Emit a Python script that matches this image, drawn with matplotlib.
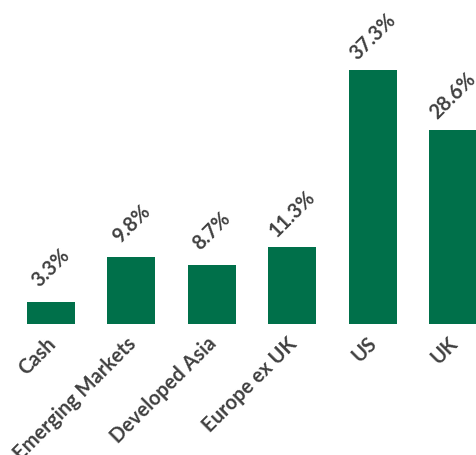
import matplotlib.pyplot as plt

categories = ['Cash', 'Emerging Markets', 'Developed Asia', 'Europe ex UK', 'US', 'UK']
weights = [3.3, 9.8, 8.7, 11.3, 37.3, 28.6]
value_labels = ['3.3%', '9.8%', '8.7%', '11.3%', '37.3%', '28.6%']

plt.rcParams['font.family'] = ['Lato', 'DejaVu Sans']
green = '#00704A'
grey = '#404040'

fig = plt.figure(figsize=(4.76, 4.55), dpi=100)
ax = fig.add_axes([0, 131 / 455, 1, 324 / 455])

x = list(range(len(categories)))
ax.bar(x, weights, width=0.597, color=green)
ax.set_xlim(-0.634, 5.286)
ax.set_ylim(0, 47.65)
ax.axis('off')

# percentage labels above the bars
for xi, w, lab in zip(x, weights, value_labels):
    ax.annotate(lab, (xi, w), xytext=(0, 24), textcoords='offset points',
                rotation=45, ha='center', va='center', fontsize=14.5,
                fontweight='bold', color=grey, annotation_clip=False)

# category names under the bars
for xi, cat in zip(x, categories):
    ax.annotate(cat, (xi, 0), xytext=(1, -12), textcoords='offset points',
                rotation=45, rotation_mode='anchor', ha='right', va='center',
                fontsize=14.5, fontweight='bold', color=grey, annotation_clip=False)

fig.savefig('out.png', dpi=100)
